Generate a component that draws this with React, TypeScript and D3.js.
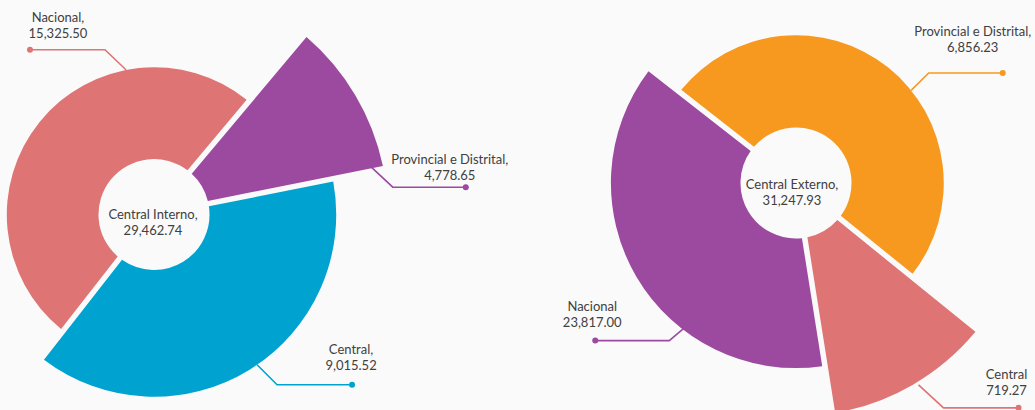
import React from 'react';
import * as d3 from 'd3';

// ---- data ----
const internoTitle = 'Central Interno,';
const internoTotal = 29462.74;
const internoNames = ['Provincial e Distrital,', 'Central,', 'Nacional,'];
const internoValues = [4778.65, 9015.52, 15325.5];
const internoShares = [38.7, 139.3, 182];
const internoDepth = [100, 71, 51.5];
const internoColors = ['#9c4aa0', '#00a3d0', '#de7474'];

const externoTitle = 'Central Externo,';
const externoTotal = 31247.93;
const externoNames = ['Central', 'Nacional', 'Provincial e Distrital,'];
const externoValues = [719.27, 23817.0, 6856.23];
const externoShares = [42, 137, 181];
const externoDepth = [99.5, 72.6, 51.7];
const externoColors = ['#de7474', '#9c4aa0', '#f7991f'];

// ---- layout ----
const W = 1035;
const H = 410;
const INNER = 55.5;
const OUTER_MAX = 234;
const fmt = d3.format(',.2f');

type LabelCfg = { t: number; rOff: number; elbow: [number, number]; run: number; text: [number, number] };

const charts = [
  {
    cx: 154, cy: 214.5, startDeg: 40, titleDx: -1, titleDy: 0,
    title: internoTitle, total: internoTotal,
    names: internoNames, values: internoValues, shares: internoShares, depth: internoDepth, colors: internoColors,
    labels: [
      { t: 0.97, rOff: -12, elbow: [22, 20.6], run: 73, text: [-16, -12] },
      { t: 0.48, rOff: 0, elbow: [20, 20], run: 75, text: [-1, -20] },
      { t: 0.72, rOff: 0, elbow: [-21, -20], run: -75, text: [28, -17] },
    ] as LabelCfg[],
  },
  {
    cx: 796, cy: 183, startDeg: 129, titleDx: -4, titleDy: 2,
    title: externoTitle, total: externoTotal,
    names: externoNames, values: externoValues, shares: externoShares, depth: externoDepth, colors: externoColors,
    labels: [
      { t: 0.47, rOff: 3, elbow: [25, 23], run: 75, text: [-12, -18] },
      { t: 0.34, rOff: -3, elbow: [-15.7, 13.3], run: -74, text: [-3, -19] },
      { t: 0.57, rOff: 0, elbow: [17.6, -17.3], run: 74, text: [-30, -26] },
    ] as LabelCfg[],
  },
];

const radius = d3.scaleLinear().domain([0, 100]).range([INNER, OUTER_MAX]);

function Rose({ c }: { c: (typeof charts)[number] }) {
  const start = (c.startDeg * Math.PI) / 180;
  const pie = d3
    .pie<number>()
    .sort(null)
    .value((_, i) => c.shares[i])
    .startAngle(start)
    .endAngle(start + Math.PI * 2);
  const arcs = pie(c.values);
  const arcGen = d3.arc<d3.PieArcDatum<number>>().padRadius(100).padAngle(0.055);

  return (
    <g transform={`translate(${c.cx},${c.cy})`}>
      {arcs.map((a, i) => (
        <path
          key={'s' + i}
          d={arcGen({ ...a, innerRadius: INNER, outerRadius: radius(c.depth[i]) } as any) || ''}
          fill={c.colors[i]}
        />
      ))}
      {arcs.map((a, i) => {
        const L = c.labels[i];
        const ang = a.startAngle + (a.endAngle - a.startAngle) * L.t;
        const r = radius(c.depth[i]) + L.rOff;
        const x0 = r * Math.sin(ang);
        const y0 = -r * Math.cos(ang);
        const x1 = x0 + L.elbow[0];
        const y1 = y0 + L.elbow[1];
        const x2 = x1 + L.run;
        const tx = x2 + L.text[0];
        const ty = y1 + L.text[1];
        return (
          <g key={'l' + i}>
            <polyline
              points={`${x0},${y0} ${x1},${y1} ${x2},${y1}`}
              fill="none"
              stroke={c.colors[i]}
              strokeWidth={1.6}
            />
            <circle cx={x2} cy={y1} r={3} fill={c.colors[i]} />
            <text
              x={tx}
              textAnchor="middle"
              fontFamily="Lato, 'Open Sans', sans-serif"
              fontSize={13}
              fill="#404040"
            >
              <tspan x={tx} y={ty - 16} dominantBaseline="central">{c.names[i]}</tspan>
              <tspan x={tx} y={ty} dominantBaseline="central">{fmt(c.values[i])}</tspan>
            </text>
          </g>
        );
      })}
      <text textAnchor="middle" fontFamily="Lato, 'Open Sans', sans-serif" fontSize={13} fill="#404040">
        <tspan x={c.titleDx} y={c.titleDy - 1} dominantBaseline="central">{c.title}</tspan>
        <tspan x={c.titleDx} y={c.titleDy + 15} dominantBaseline="central">{fmt(c.total)}</tspan>
      </text>
    </g>
  );
}

export default function App() {
  return (
    <svg
      width={W}
      height={H}
      style={{ position: 'absolute', left: 0, top: 0, background: '#fafafa', display: 'block' }}
    >
      <rect width={W} height={H} fill="#fafafa" />
      {charts.map((c, i) => (
        <Rose key={i} c={c} />
      ))}
    </svg>
  );
}
